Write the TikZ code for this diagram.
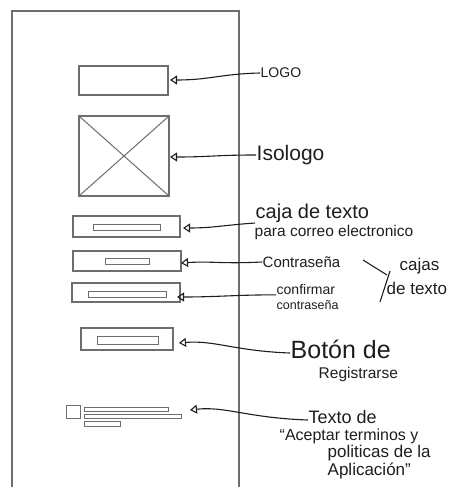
\documentclass[tikz,border=0pt]{standalone}
\usepackage{fontspec}
\setmainfont{Liberation Sans}
\usetikzlibrary{arrows.meta}
\definecolor{wire}{HTML}{6E6E6E}
\definecolor{pen}{HTML}{1E1E1E}
\begin{document}
\begin{tikzpicture}[x=1pt,y=-1pt,
  wbox/.style={draw=wire,line width=1.1pt,rectangle,inner sep=0pt,outer sep=0pt,anchor=north west},
  wbar/.style={draw=wire,line width=0.9pt,rectangle,inner sep=0pt,outer sep=0pt,anchor=north west},
  lbl/.style={text=pen,inner sep=0.5pt,anchor=west},
  arr/.style={draw=pen,line width=1.1pt,-{Triangle[open,length=7pt,width=9pt]}},
  penline/.style={draw=pen,line width=1.1pt}]
\useasboundingbox (0,0) rectangle (451,487);
% phone frame
\draw[wire,line width=1.3pt] (12,492) -- (12,11) -- (239,11) -- (239,492);
% wireframe elements
\node[wbox,minimum width=89,minimum height=29] (logo) at (79,66) {};
\node[wbox,minimum width=90,minimum height=80] (iso) at (79,116) {};
\draw[wire,line width=1pt] (iso.north west) -- (iso.south east) (iso.north east) -- (iso.south west);
\node[wbox,minimum width=107,minimum height=21] (mail) at (73,216) {};
\node[wbar,minimum width=67,minimum height=6] (mailbar) at (93,224) {};
\node[wbox,minimum width=108,minimum height=20] (pass) at (73,251) {};
\node[wbar,minimum width=44,minimum height=6] (passbar) at (105,258) {};
\node[wbox,minimum width=108,minimum height=19] (conf) at (72,283) {};
\node[wbar,minimum width=78,minimum height=6] (confbar) at (88,291) {};
\node[wbox,minimum width=92,minimum height=22] (btn) at (81,328) {};
\node[wbar,minimum width=61,minimum height=8] (btnbar) at (97,336) {};
\node[wbox,line width=1pt,minimum width=14,minimum height=13] (check) at (66,405) {};
\node[wbar,minimum width=84,minimum height=4] (t1) at (84,407) {};
\node[wbar,minimum width=97,minimum height=4] (t2) at (84,414) {};
\node[wbar,minimum width=36,minimum height=5] (t3) at (84,421) {};
% arrow tips
\coordinate (tLogo) at (170,80);
\coordinate (tIso) at (170,157);
\coordinate (tMail) at (183,228);
\coordinate (tPass) at (181,263);
\coordinate (tConf) at (177,297);
\coordinate (tBtn) at (179,343);
\coordinate (tTerm) at (190,410);
% labels
\node[lbl,font=\fontsize{14}{16}\selectfont] (lLogo) at (260,73) {LOGO};
\node[lbl,font=\fontsize{21}{24}\selectfont] (lIso) at (256,155) {Isologo};
\node[lbl,font=\fontsize{20}{22}\selectfont] (lMail) at (255,213) {caja de texto};
\node[lbl,font=\fontsize{15.5}{17}\selectfont] (lMail2) at (254,232) {para correo electronico};
\node[lbl,font=\fontsize{15}{17}\selectfont] (lPass) at (262,262) {Contraseña};
\node[lbl,font=\fontsize{14}{16}\selectfont] (lConf) at (276,289) {confirmar};
\node[lbl,font=\fontsize{12.5}{14}\selectfont] (lConf2) at (276,305) {contraseña};
\node[lbl,font=\fontsize{17}{19}\selectfont] (lCajas) at (399,266) {cajas};
\node[lbl,font=\fontsize{17}{19}\selectfont] (lCajas2) at (386,288) {de texto};
\node[lbl,font=\fontsize{25}{28}\selectfont] (lBtn) at (290,349) {Botón de};
\node[lbl,font=\fontsize{15.5}{17}\selectfont] (lBtn2) at (318,374) {Registrarse};
\node[lbl,font=\fontsize{18}{20}\selectfont] (lTerm) at (308,417) {Texto de};
\node[lbl,font=\fontsize{16}{18}\selectfont] (lTerm2) at (279,436) {“Aceptar terminos y};
\node[lbl,font=\fontsize{17}{19}\selectfont] (lTerm3) at (327,453) {politicas de la};
\node[lbl,font=\fontsize{17}{19}\selectfont] (lTerm4) at (327,471) {Aplicación”};
% connectors
\draw[arr] (lLogo.west) .. controls +(-40,1) and +(40,0) .. (tLogo);
\draw[arr] (lIso.west) .. controls +(-40,0) and +(40,0) .. (tIso);
\draw[arr] (lMail.south west) .. controls +(-30,2) and +(30,0) .. (tMail);
\draw[arr] (lPass.west) .. controls +(-40,2) and +(30,-2) .. (tPass);
\draw[arr] (lConf.south west) .. controls +(-40,0) and +(40,0) .. (tConf);
\draw[arr] ([yshift=-4pt]lBtn.west) .. controls +(-55,-2) and +(35,-3) .. (tBtn);
\draw[arr] ([yshift=-3pt]lTerm.west) .. controls +(-60,-2) and +(35,-4) .. (tTerm);
% bracket
\draw[penline] (363,260) -- (387,275);
\draw[penline] (390,271) -- (380,302);
\end{tikzpicture}
\end{document}
